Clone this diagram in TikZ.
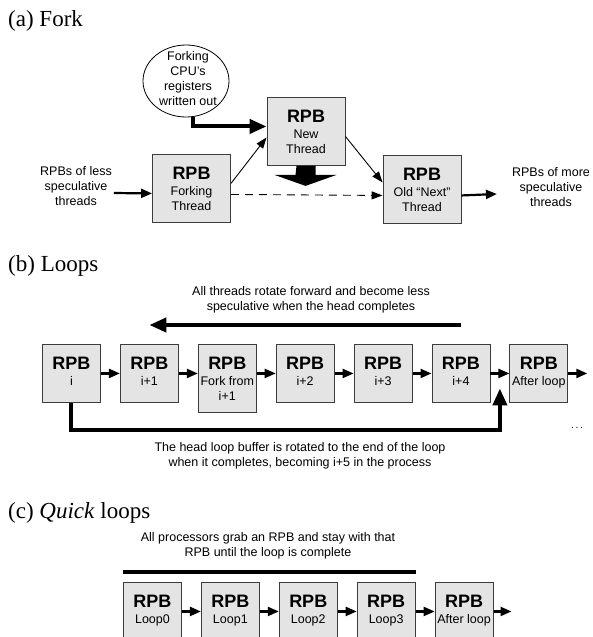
\documentclass[tikz,border=0pt]{standalone}
\usepackage{fontspec}
\setmainfont{Liberation Serif}
\newfontfamily\arialfont{Liberation Sans}
\usetikzlibrary{positioning,arrows.meta,shapes.geometric,calc}
\definecolor{rpbfill}{HTML}{E4E4E4}
\definecolor{rpbline}{HTML}{3C3C3C}
\newcommand{\rpbhead}{{\fontsize{18}{18}\selectfont\bfseries RPB}\\[1pt]}

\begin{document}
\begin{tikzpicture}[
  x=1pt, y=-1pt,
  font=\arialfont\fontsize{12.5}{15}\selectfont,
  ttl/.style={anchor=base west, inner sep=0pt, font=\rmfamily\fontsize{23}{26}\selectfont},
  lbl/.style={align=center, inner sep=0pt},
  rpb/.style={draw=rpbline, fill=rpbfill, line width=0.9pt, align=center, inner xsep=1pt,
              inner ysep=0pt, minimum width=58pt, text height=41pt, text depth=17pt,
              anchor=north west},
  forkbox/.style={rpb, text height=56pt, text depth=12pt},
  abox/.style={rpb, minimum width=78pt, text height=56pt, text depth=12pt, anchor=north},
  nextto/.style={right=19pt of #1.north east, anchor=north west},
  thinarr/.style={-{Triangle[length=11pt,width=8pt]}, line width=0.9pt},
  medarr/.style={-{Triangle[length=11pt,width=9pt]}, line width=2.2pt},
  fatarr/.style={-{Triangle[length=17pt,width=14pt]}, line width=4pt},
  fatline/.style={line width=4pt}
]
\useasboundingbox (0,0) rectangle (592,637);
\clip (0,0) rectangle (592,637);
% ================= (a) fork =================
\node[ttl] (ta) at (8,26) {(a) Fork};
\node[ellipse, draw, line width=0.8pt, fill=white, minimum width=86pt, minimum height=72pt,
      inner sep=0pt] (cpu) at (186,81) {};
\node[lbl] (cputxt) at (188,79) {Forking\\CPU’s\\registers\\written out};
\node[abox] (ft) at (191.5,154) {\rpbhead Forking\\Thread};
\node[abox] (nt) at (306,97)    {\rpbhead New\\Thread};
\node[abox] (ot) at (422,155)   {\rpbhead Old “Next”\\Thread};
\node[lbl] (lessL) at (76,186) {RPBs of less\\speculative\\threads};
\node[lbl] (moreL) at (551,187) {RPBs of more\\speculative\\threads};
% connectors
\draw[medarr] ([xshift=2pt,yshift=-7pt]lessL.east) -- ([yshift=-5pt]ft.west);
\draw[fatarr] ([xshift=7pt]cpu.south) |- ([yshift=5pt]nt.west);
\draw[thinarr] ([yshift=5pt]ft.east) -- ([yshift=-6pt]nt.west);
\draw[thinarr] ([yshift=-5pt]nt.east) -- ([yshift=7pt]ot.west);
\draw[thinarr, dash pattern=on 8pt off 6pt] ([yshift=-6pt]ft.east) -- ([yshift=-6pt]ot.west);
\draw[medarr] ([yshift=-6pt]ot.east) -- ([xshift=-15pt,yshift=-7pt]moreL.west);
% block arrow under the new thread
\fill ([xshift=-9.5pt]nt.south) -- ++(19,0) -- ++(0,9) -- ++(21,0) -- ++(-31,11)
  -- ++(-31,-11) -- ++(21,0) -- cycle;
% ================= (b) loops =================
\node[ttl] (tb) at (8,271) {(b) Loops};
\node[rpb] (b1) at (42,344) {\rpbhead i};
\node[rpb, nextto=b1] (b2) {\rpbhead i+1};
\node[forkbox, nextto=b2] (b3) {\rpbhead Fork from\\i+1};
\node[rpb, nextto=b3] (b4) {\rpbhead i+2};
\node[rpb, nextto=b4] (b5) {\rpbhead i+3};
\node[rpb, nextto=b5] (b6) {\rpbhead i+4};
\node[rpb, nextto=b6] (b7) {\rpbhead After loop};
\foreach \a/\b in {b1/b2, b2/b3, b3/b4, b4/b5, b5/b6, b6/b7}{
  \draw[medarr] (\a.east |- b1.east) -- (\b.west |- b1.east);}
\coordinate (bout) at ([xshift=19pt]b7.east);
\draw[medarr] (b7.east) -- (bout);
% rotation over the top
\node[lbl] (rotTxt) at (311,300) {All threads rotate forward and become less\\speculative when the head completes};
\draw[fatarr] ([yshift=19pt]b6.north) -- ([yshift=19pt]b2.north);
% head buffer goes round to the end
\coordinate (gap) at ($(b6.east)!0.5!(b7.west)$);
\draw[fatarr] (b1.south) |- ([yshift=-57pt]gap) -- ([yshift=-15pt]gap);
\node[lbl, font=\arialfont\fontsize{10}{12}\selectfont] (dots) at (577,428) {.\,.\,.};
\node[lbl] (headTxt) at (300,455.5) {The head loop buffer is rotated to the end of the loop\\when it completes, becoming i+5 in the process};
% ================= (c) quick loops =================
\node[ttl] (tc) at (8,518) {(c) \textit{Quick} loops};
\node[lbl] (grabTxt) at (268,546) {All processors grab an RPB and stay with that\\RPB until the loop is complete};
\node[rpb] (c1) at (123,582) {\rpbhead Loop0};
\node[rpb, nextto=c1] (c2) {\rpbhead Loop1};
\node[rpb, nextto=c2] (c3) {\rpbhead Loop2};
\node[rpb, nextto=c3] (c4) {\rpbhead Loop3};
\node[rpb, nextto=c4] (c5) {\rpbhead After loop};
\foreach \a/\b in {c1/c2, c2/c3, c3/c4, c4/c5}{\draw[medarr] (\a.east) -- (\b.west);}
\coordinate (cout) at ([xshift=18pt]c5.east);
\draw[medarr] (c5.east) -- (cout);
\draw[fatline] ([yshift=10pt]c1.north west) -- ([yshift=10pt]c4.north east);
\end{tikzpicture}
\end{document}
